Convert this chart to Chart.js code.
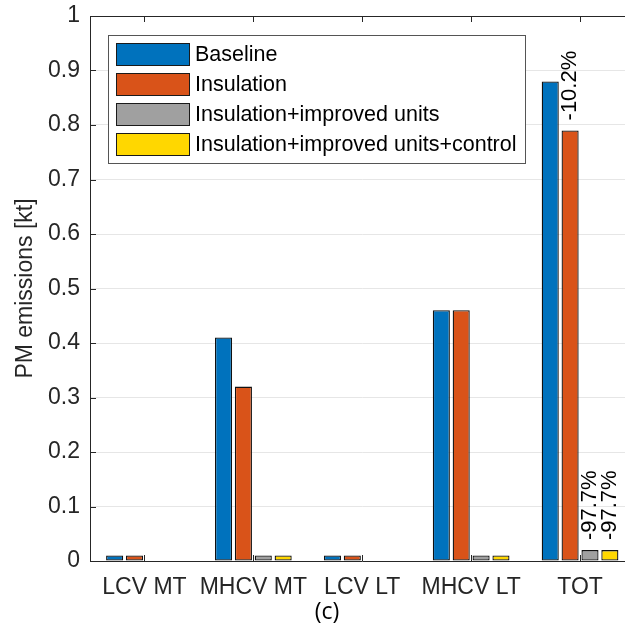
<!DOCTYPE html>
<html>
<head>
<meta charset="utf-8">
<script src="https://cdn.jsdelivr.net/npm/chart.js@4/dist/chart.umd.min.js"></script>
<style>
  html, body { margin: 0; padding: 0; background: #fff; overflow: hidden; }
  #wrap { width: 660px; height: 632px; }
</style>
</head>
<body>
<div id="wrap"><canvas id="pmChart" width="660" height="632"></canvas></div>
<script>
// values (kt)
const categories = ["LCV MT", "MHCV MT", "LCV LT", "MHCV LT", "TOT"];
const seriesNames = ["Baseline", "Insulation", "Insulation+improved units", "Insulation+improved units+control"];
const baseline = [0.01, 0.41, 0.01, 0.46, 0.88];
const insulation = [0.01, 0.32, 0.01, 0.46, 0.79];
const improvedUnits = [0, 0.01, 0, 0.01, 0.02];
const improvedControl = [0, 0.01, 0, 0.01, 0.02];
const seriesColors = ["#0072BD", "#D95319", "#A0A0A0", "#FFD700"];
const yTicks = [0, 0.1, 0.2, 0.3, 0.4, 0.5, 0.6, 0.7, 0.8, 0.9, 1];

// percentage labels: [series index, category index, text]
const barNotes = [
  [1, 4, "-10.2%"],
  [2, 4, "-97.7%"],
  [3, 4, "-97.7%"]
];

const FONT = "'Liberation Sans', Arial, sans-serif";
const AXIS = "#262626";

const frame = {
  id: "frame",
  afterDatasetsDraw(chart) {
    const { ctx, chartArea: a, scales: { x, y } } = chart;
    ctx.save();
    ctx.strokeStyle = AXIS;
    ctx.lineWidth = 1;
    // top box line
    ctx.beginPath();
    ctx.moveTo(a.left, Math.round(a.top) + 0.5);
    ctx.lineTo(a.right, Math.round(a.top) + 0.5);
    ctx.stroke();
    // inward ticks
    ctx.beginPath();
    yTicks.forEach(v => {
      const py = Math.round(y.getPixelForValue(v)) + 0.5;
      ctx.moveTo(a.left, py);
      ctx.lineTo(a.left + 6, py);
    });
    categories.forEach((c, i) => {
      const px = Math.round(x.getPixelForValue(i)) + 0.5;
      ctx.moveTo(px, a.top);
      ctx.lineTo(px, a.top + 6);
      ctx.moveTo(px, a.bottom);
      ctx.lineTo(px, a.bottom - 6);
    });
    ctx.stroke();

    // rotated percentage labels above bars
    ctx.fillStyle = "#000";
    ctx.font = "22px " + FONT;
    ctx.textAlign = "left";
    ctx.textBaseline = "middle";
    barNotes.forEach(([s, i, t]) => {
      const bar = chart.getDatasetMeta(s).data[i];
      ctx.save();
      ctx.translate(bar.x, bar.y - 10);
      ctx.rotate(-Math.PI / 2);
      ctx.fillText(t, 0, 0);
      ctx.restore();
    });

    // legend box
    const lx = 108.5, ly = 35.5, lw = 417, lh = 128;
    ctx.fillStyle = "#fff";
    ctx.fillRect(lx, ly, lw, lh);
    ctx.strokeStyle = "#555";
    ctx.strokeRect(lx, ly, lw, lh);
    ctx.font = "21.5px " + FONT;
    ctx.textBaseline = "middle";
    chart.data.datasets.forEach((ds, i) => {
      const ry = 43.5 + i * 30;
      ctx.fillStyle = ds.backgroundColor;
      ctx.fillRect(116.5, ry, 73, 22);
      ctx.strokeStyle = "#1a1a1a";
      ctx.strokeRect(116.5, ry, 73, 22);
      ctx.fillStyle = "#000";
      ctx.fillText(ds.label, 195, ry + 12);
    });

    // panel letter
    ctx.font = "23px 'Open Sans', sans-serif";
    ctx.textAlign = "center";
    ctx.fillStyle = "#000";
    ctx.fillText("(c)", 327, 612);
    ctx.restore();
  }
};

const seriesData = [baseline, insulation, improvedUnits, improvedControl];

new Chart("pmChart", {
  type: "bar",
  data: {
    labels: categories,
    datasets: seriesData.map((d, i) => ({
      label: seriesNames[i],
      data: d,
      backgroundColor: seriesColors[i],
      borderColor: "#111111",
      borderWidth: 1.3,
      borderSkipped: false,
      categoryPercentage: 0.73,
      barPercentage: 0.86
    }))
  },
  options: {
    responsive: false,
    animation: false,
    devicePixelRatio: 1,
    layout: { padding: { left: 0, top: 16, right: 25.5, bottom: 0 } },
    plugins: {
      legend: { display: false },
      tooltip: { enabled: false }
    },
    scales: {
      x: {
        grid: { display: false, drawTicks: false },
        border: { color: AXIS, width: 1 },
        ticks: {
          color: "#262626",
          font: { family: FONT, size: 23 },
          padding: 13,
          autoSkip: false,
          maxRotation: 0
        },
        afterFit: s => {
          s.height = 71;
          s.paddingLeft = 0;
          s.paddingRight = 0;
        }
      },
      y: {
        min: 0,
        max: 1,
        grid: { color: "#e6e6e6", drawTicks: false },
        border: { color: AXIS, width: 1 },
        ticks: {
          stepSize: 0.1,
          padding: 10,
          color: "#262626",
          font: { family: FONT, size: 23 },
          callback: v => String(+v.toFixed(1))
        },
        title: {
          display: true,
          text: "PM emissions [kt]",
          color: "#262626",
          font: { family: FONT, size: 23 },
          padding: { top: 12, bottom: 0 }
        },
        afterFit: s => {
          s.width = 90;
          s.paddingTop = 0;
          s.paddingBottom = 0;
        }
      }
    }
  },
  plugins: [frame]
});
</script>
</body>
</html>
